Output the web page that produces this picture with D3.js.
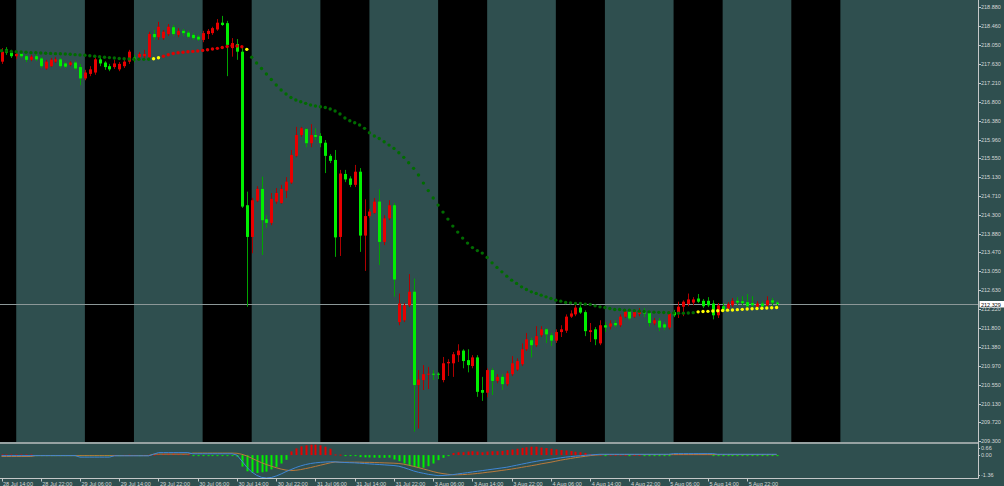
<!DOCTYPE html>
<html><head><meta charset="utf-8">
<script src="https://cdn.jsdelivr.net/npm/d3@7"></script>
<style>html,body{margin:0;padding:0;background:#2f4f4f;overflow:hidden}svg{display:block}</style>
</head><body><svg id="c" width="1004" height="486"></svg>
<script>
// ---------------- DATA ----------------
const firstBarTime = Date.UTC(2015, 6, 28, 14); // 28 Jul 14:00, hourly bars
const opens = [217.68,217.95,217.88,217.80,217.85,217.80,217.72,217.80,217.75,217.53,
 217.58,217.68,217.73,217.64,217.61,217.66,217.56,217.31,217.41,217.44,
 217.73,217.66,217.58,217.56,217.51,217.58,217.68,217.77,217.78,217.80,
 217.78,218.29,218.22,218.20,218.29,218.44,218.27,218.36,218.32,218.27,
 218.23,218.16,218.29,218.31,218.39,218.54,218.53,217.98,218.07,217.90,
 214.51,213.81,214.61,214.87,214.20,214.12,214.59,214.56,214.83,215.01,
 215.60,216.06,216.19,215.88,216.06,216.04,215.89,215.60,215.51,213.81,
 215.20,215.10,214.96,215.25,213.84,214.27,214.34,214.59,213.70,214.22,
 214.51,211.93,211.97,212.30,212.60,210.54,210.65,210.78,210.79,210.79,
 210.65,211.02,211.02,211.20,211.30,211.09,210.96,211.15,210.43,210.37,
 210.87,210.63,210.72,210.56,210.78,210.88,211.00,211.33,211.53,211.42,
 211.64,211.77,211.64,211.52,211.71,211.74,212.05,212.10,212.25,212.15,
 211.71,211.77,211.46,211.86,211.83,211.91,211.86,212.05,212.16,212.05,
 212.11,212.18,212.13,211.90,211.96,211.88,211.81,212.15,212.13,212.27,
 212.33,212.36,212.45,212.40,212.40,212.34,212.08,212.28,212.23,212.30,
 212.40,212.39,212.37,212.35,212.27,212.34,212.30,212.41,212.36];
const highs = [217.98,218.00,217.94,217.92,217.92,217.83,217.83,217.85,217.78,217.72,
 217.76,217.78,217.76,217.67,217.69,217.69,217.63,217.50,217.58,217.78,
 217.78,217.69,217.63,217.72,217.67,217.72,217.94,217.83,217.89,217.94,
 218.34,218.38,218.56,218.38,218.51,218.49,218.42,218.40,218.36,218.31,
 218.27,218.36,218.40,218.45,218.62,218.69,218.58,218.20,218.18,217.98,
 214.81,214.67,214.93,215.14,214.29,214.78,214.89,214.96,215.13,215.73,
 216.24,216.24,216.21,216.30,216.21,216.10,215.95,215.64,215.73,215.29,
 215.29,215.15,215.40,215.33,214.64,214.43,214.67,214.86,214.29,214.62,
 214.56,212.56,212.35,212.99,212.89,210.87,210.98,210.94,210.87,210.82,
 211.16,211.11,211.27,211.44,211.33,211.33,211.20,211.20,210.72,210.91,
 210.91,210.78,210.78,210.85,211.18,211.13,211.46,211.69,211.58,211.84,
 211.84,211.79,211.69,211.77,211.86,212.10,212.19,212.35,212.30,212.19,
 211.91,211.82,211.97,211.93,211.97,211.97,212.10,212.22,212.22,212.22,
 212.24,212.24,212.19,212.02,212.02,211.93,212.17,212.20,212.38,212.41,
 212.56,212.48,212.55,212.44,212.48,212.41,212.35,212.35,212.37,212.46,
 212.48,212.50,212.55,212.50,212.39,212.39,212.50,212.46,212.39];
const lows = [217.63,217.83,217.76,217.74,217.76,217.67,217.69,217.69,217.54,217.50,
 217.56,217.65,217.54,217.54,217.58,217.50,217.16,217.27,217.36,217.39,
 217.58,217.50,217.47,217.52,217.47,217.54,217.63,217.67,217.74,217.74,
 217.74,218.16,218.16,218.16,218.25,218.25,218.22,218.25,218.20,218.16,
 218.14,218.11,218.18,218.27,218.36,218.47,217.36,217.79,217.72,214.45,
 212.27,213.45,214.58,213.41,214.01,214.07,214.54,214.54,214.67,214.98,
 215.57,216.02,215.79,215.79,215.95,215.79,215.22,215.44,213.37,213.39,
 215.02,214.91,214.91,213.48,213.06,214.23,214.32,213.19,213.63,214.18,
 212.49,211.86,211.93,212.26,209.51,209.58,210.43,210.45,210.65,210.67,
 210.60,210.74,210.72,211.05,210.91,210.82,210.91,210.28,210.19,210.27,
 210.32,210.58,210.43,210.52,210.74,210.85,210.96,211.29,211.15,211.38,
 211.60,211.47,211.40,211.47,211.60,211.69,212.02,212.06,212.11,211.62,
 211.49,211.42,211.42,211.71,211.77,211.82,211.82,212.02,211.97,212.02,
 212.06,212.04,211.83,211.86,211.73,211.75,211.77,212.04,212.02,212.06,
 212.28,212.30,212.35,212.24,212.26,211.99,212.02,212.15,212.19,212.26,
 212.30,212.30,212.24,212.24,212.24,212.24,212.26,212.30,212.28];
const closes = [217.90,217.88,217.80,217.85,217.80,217.72,217.79,217.73,217.58,217.68,
 217.72,217.73,217.58,217.57,217.66,217.53,217.31,217.44,217.51,217.73,
 217.64,217.56,217.51,217.64,217.63,217.68,217.90,217.72,217.85,217.85,
 218.29,218.22,218.45,218.34,218.45,218.29,218.36,218.31,218.23,218.20,
 218.17,218.31,218.36,218.42,218.54,218.49,218.05,218.09,217.90,214.48,
 213.81,214.62,214.87,214.18,214.12,214.65,214.78,214.87,215.03,215.62,
 216.06,216.21,215.88,216.06,216.02,215.88,215.60,215.49,213.80,215.21,
 215.08,214.96,215.25,213.84,214.27,214.37,214.59,213.70,214.22,214.51,
 212.87,212.34,212.30,212.60,210.54,210.66,210.78,210.79,210.78,210.77,
 211.02,211.05,211.22,211.30,211.07,210.98,211.15,210.39,210.37,210.87,
 210.63,210.72,210.56,210.80,211.02,211.07,211.33,211.55,211.42,211.62,
 211.77,211.66,211.52,211.71,211.77,212.05,212.12,212.25,212.14,211.73,
 211.75,211.55,211.86,211.81,211.90,211.86,212.05,212.16,212.01,212.16,
 212.19,212.12,211.91,211.97,211.81,211.81,212.12,212.08,212.27,212.38,
 212.43,212.43,212.38,212.28,212.30,212.08,212.30,212.19,212.33,212.40,
 212.36,212.35,212.28,212.30,212.34,212.28,212.41,212.36,212.329];
const maValues = [217.921,217.915,217.904,217.897,217.893,217.886,217.879,217.875,217.871,217.866,
 217.862,217.857,217.853,217.849,217.842,217.835,217.826,217.820,217.811,217.800,
 217.787,217.778,217.769,217.760,217.751,217.745,217.738,217.734,217.731,217.731,
 217.734,217.745,217.767,217.798,217.833,217.860,217.875,217.888,217.897,217.906,
 217.915,217.928,217.943,217.959,217.974,217.992,218.014,218.030,218.025,218.010,
 217.952,217.776,217.650,217.528,217.407,217.285,217.164,217.053,216.965,216.888,
 216.832,216.795,216.759,216.722,216.700,216.684,216.667,216.634,216.589,216.523,
 216.435,216.375,216.331,216.280,216.207,216.110,216.037,215.982,215.911,215.838,
 215.765,215.668,215.567,215.447,215.324,215.176,214.999,214.833,214.668,214.513,
 214.358,214.204,214.049,213.917,213.784,213.674,213.574,213.508,213.453,213.358,
 213.238,213.137,213.039,212.944,212.856,212.784,212.708,212.651,212.598,212.563,
 212.525,212.487,212.452,212.414,212.392,212.363,212.355,212.341,212.341,212.326,
 212.319,212.288,212.266,212.253,212.231,212.209,212.209,212.193,212.193,212.182,
 212.171,212.165,212.156,212.149,212.145,212.140,212.136,212.132,212.127,212.127,
 212.132,212.138,212.156,212.163,212.167,212.174,212.180,212.187,212.193,212.198,
 212.204,212.211,212.218,212.224,212.231,212.237,212.242,212.248,212.253];
// colour state of the dotted line: [state, firstBar, lastBar]
const maStates = [["up",0,30],["flat",31,32],["down",33,49],["flat",50,50],["up",51,141],["flat",142,158]];
const histValues = [0.04,0.04,0.04,0.04,0.04,0.04,0.04,
 -0.02,-0.02,-0.02,-0.02,-0.02,-0.02,-0.02,-0.02,-0.02,
 -0.03,-0.03,-0.03,-0.03,-0.03,-0.03,-0.03,
 0.01,-0.01,0.01,0.02,0.01,-0.01,0.01,0.02,0.03,
 0.06,0.08,0.09,0.09,0.08,0.07,0.05,
 -0.04,-0.05,-0.05,-0.06,-0.06,-0.05,-0.05,-0.04,-0.06,
 -0.10,
 -0.68,-0.96,-1.04,-1.06,-1.02,-0.98,-0.85,-0.70,-0.50,-0.28,
 0.22,0.40,0.52,0.58,0.62,0.62,0.58,0.50,0.38,
 0.04,0.03,-0.03,-0.04,-0.05,
 -0.12,-0.13,-0.14,-0.15,-0.16,-0.16,-0.15,
 -0.26,-0.36,-0.50,-0.62,-0.70,-0.75,-0.75,-0.66,-0.50,-0.30,-0.16,-0.06,
 0.13,0.17,0.17,0.21,0.23,0.21,0.17,0.21,0.23,0.23,0.25,0.30,0.33,0.38,0.43,0.47,0.50,0.50,0.45,0.42,
 0.38,0.34,0.30,0.28,0.24,0.20,0.17,0.13,0.06,0.04,0.03,
 -0.02,0.03,0.02,0.03,0.02,-0.02,0.02,0.02,-0.03,-0.04,-0.04,-0.05,-0.05,-0.04,
 0.07,0.07,0.07,0.07,0.07,0.07,0.07,0.07,
 -0.05,-0.05,-0.05,-0.05,-0.05,-0.05,-0.05,-0.05,-0.05,-0.05,-0.05,-0.05,-0.05,-0.05];
const macdMain = [-0.03,-0.03,-0.03,-0.03,-0.03,-0.03,-0.03,-0.03,-0.03,-0.03,-0.03,-0.03,-0.03,-0.03,-0.03,-0.03,
 -0.12,-0.12,-0.12,-0.12,-0.12,-0.12,-0.12,
 -0.04,-0.04,-0.04,-0.04,-0.04,-0.04,-0.04,-0.04,
 0.05,
 0.15,0.15,0.15,0.15,0.15,0.15,0.15,
 0.08,0.08,0.08,0.08,0.08,0.08,0.08,0.08,0.08,
 0.00,
 -0.35,-0.72,-1.00,-1.20,-1.32,-1.36,-1.33,-1.24,-1.12,-0.98,-0.86,-0.74,-0.64,-0.56,-0.50,-0.46,-0.43,-0.41,-0.40,
 -0.40,-0.42,-0.44,-0.45,-0.46,-0.48,-0.50,-0.52,-0.54,-0.56,-0.58,-0.60,-0.62,
 -0.66,-0.74,-0.84,-0.94,-1.02,-1.08,-1.14,-1.18,-1.22,-1.21,-1.19,-1.16,-1.12,-1.08,-1.04,-1.00,-0.96,-0.92,-0.88,-0.84,
 -0.80,-0.76,-0.72,-0.66,-0.60,-0.54,-0.48,-0.42,-0.37,-0.32,-0.28,-0.24,-0.20,-0.16,-0.12,-0.09,-0.06,-0.04,-0.01,0.01,0.03,
 0.05,0.05,0.05,0.05,0.05,0.05,0.05,0.05,0.05,0.05,0.05,0.05,0.05,0.05,0.05,
 0.09,0.09,0.09,0.09,0.09,0.09,0.09,0.09,0.09,
 0.05,0.05,0.05,0.05,0.05,0.05,0.05,0.05,0.05,0.05,0.05,0.05,0.05];
const macdSignal = [-0.08,-0.08,-0.08,-0.08,-0.08,-0.08,-0.08,
 -0.03,-0.03,-0.03,-0.03,-0.03,-0.03,-0.03,-0.03,-0.03,-0.03,-0.03,-0.03,-0.03,-0.03,-0.03,-0.03,-0.03,-0.03,-0.03,-0.03,-0.03,-0.03,-0.03,-0.03,
 0.06,0.06,0.06,0.06,0.06,0.06,0.06,0.06,
 0.12,0.12,0.12,0.12,0.12,0.12,0.12,0.12,0.12,
 0.11,
 0.05,-0.05,-0.18,-0.32,-0.45,-0.56,-0.66,-0.75,-0.83,-0.89,
 -0.92,-0.90,-0.86,-0.80,-0.74,-0.67,-0.60,-0.53,-0.46,-0.41,-0.425,
 -0.42,-0.42,-0.42,-0.42,-0.43,-0.43,-0.44,-0.45,-0.46,-0.47,-0.48,
 -0.50,-0.54,-0.60,-0.67,-0.74,-0.82,-0.90,-0.98,-1.05,-1.10,-1.14,
 -1.17,-1.17,-1.16,-1.14,-1.12,-1.09,-1.06,-1.02,-0.99,-0.95,-0.91,-0.87,-0.83,-0.78,-0.73,-0.68,-0.63,-0.58,-0.52,-0.47,
 -0.42,-0.36,-0.30,-0.25,-0.20,-0.15,-0.11,-0.07,-0.03,0.00,0.02,
 0.03,0.03,0.03,0.03,0.03,0.03,0.03,0.03,0.03,0.03,0.03,0.03,0.03,0.03,0.03,0.03,0.03,0.03,
 0.03,0.03,0.03,0.03,0.03,0.03,0.03,0.03,0.03,0.03,0.03,0.03,0.03,0.03,0.03,0.03,0.03,0.03];
const priceTicks = [218.880,218.460,218.050,217.630,217.210,216.800,216.380,215.960,215.550,215.130,
 214.710,214.300,213.880,213.470,213.050,212.630,212.220,211.800,211.380,210.970,210.550,210.130,209.720,209.300];
const macdTicks = [0.66, 0.00, -1.36];
const timeLabels = ["28 Jul 14:00","28 Jul 22:00","29 Jul 06:00","29 Jul 14:00","29 Jul 22:00","30 Jul 06:00",
 "30 Jul 14:00","30 Jul 22:00","31 Jul 06:00","31 Jul 14:00","31 Jul 22:00","3 Aug 06:00","3 Aug 14:00",
 "3 Aug 22:00","4 Aug 06:00","4 Aug 14:00","4 Aug 22:00","5 Aug 06:00","5 Aug 14:00","5 Aug 22:00"];
const labelEveryBars = 8;
const sessionDays = [[2015,6,28],[2015,6,29],[2015,6,30],[2015,6,31],[2015,7,3],[2015,7,4],[2015,7,5],[2015,7,6]];
const sessionHours = [7, 17];
const currentPrice = 212.329;

// ---------------- HELPERS ----------------
function barIndexOf(t) { // trading-hour bars between first bar and t (weekends skipped)
  const HR = 3600000; let n = 0, cur = firstBarTime; const step = t >= cur ? 1 : -1;
  while (cur !== t) { cur += step * HR; const wd = new Date(cur).getUTCDay(); if (wd !== 0 && wd !== 6) n += step; }
  return n;
}
const N = closes.length;
const W = 1004, H = 486, axisX = 978, mainBottom = 442, subTop = 444, subBottom = 478;

const x = d3.scaleLinear().domain([0, 158]).range([1.5, 776.6]);
const y = d3.scaleLinear().domain([209.300, 218.880]).range([441.2, 7.3]);
const ym = d3.scaleLinear().domain([-1.36, 0.66]).range([subBottom, subTop]);

const svg = d3.select("#c");
svg.append("rect").attr("width", W).attr("height", H).attr("fill", "#2f4f4f");
const defs = svg.append("defs");
defs.append("clipPath").attr("id", "mainClip").append("rect").attr("x", 0).attr("y", 0).attr("width", axisX).attr("height", mainBottom);
defs.append("clipPath").attr("id", "subClip").append("rect").attr("x", 0).attr("y", subTop).attr("width", axisX).attr("height", subBottom - subTop);

const main = svg.append("g").attr("clip-path", "url(#mainClip)");
// session stripes
const sessions = sessionDays.map(d => ({
  i0: barIndexOf(Date.UTC(d[0], d[1], d[2], sessionHours[0])),
  i1: barIndexOf(Date.UTC(d[0], d[1], d[2], sessionHours[1]))
}));
main.selectAll("rect.sess").data(sessions).join("rect").attr("class", "sess")
  .attr("x", d => x(d.i0)).attr("width", d => x(d.i1) - x(d.i0))
  .attr("y", 0).attr("height", mainBottom).attr("fill", "#000");

// current price line
const yc = Math.round(y(currentPrice)) + 0.5;
main.append("line").attr("x1", 0).attr("x2", axisX).attr("y1", yc).attr("y2", yc)
  .attr("stroke", "#8c9898").attr("stroke-width", 1);

// candles
const idx = d3.range(N);
const up = i => closes[i] > opens[i];
main.selectAll("line.wick").data(idx).join("line").attr("class", "wick")
  .attr("x1", i => Math.round(x(i)) + 0.5).attr("x2", i => Math.round(x(i)) + 0.5)
  .attr("y1", i => y(highs[i])).attr("y2", i => y(lows[i]))
  .attr("stroke", i => up(i) ? "#b00000" : "#00a400").attr("stroke-width", 1);
main.selectAll("rect.body").data(idx).join("rect").attr("class", "body")
  .attr("x", i => Math.round(x(i)) - 1).attr("width", 3)
  .attr("y", i => y(Math.max(opens[i], closes[i])))
  .attr("height", i => Math.max(1, Math.abs(y(opens[i]) - y(closes[i]))))
  .attr("fill", i => up(i) ? "#e80000" : "#00f000");

// dotted line
const stateColor = { up: "#006c00", down: "#e00000", flat: "#ffff00" };
const maCol = new Array(N);
maStates.forEach(([s, a, b]) => { for (let i = a; i <= b; i++) maCol[i] = stateColor[s]; });
main.selectAll("circle.ma").data(idx).join("circle").attr("class", "ma")
  .attr("cx", i => x(i)).attr("cy", i => y(maValues[i])).attr("r", 1.7)
  .attr("fill", i => maCol[i]);

// separator
svg.append("rect").attr("x", 0).attr("y", mainBottom).attr("width", axisX).attr("height", 2).attr("fill", "#97a2a2");

// indicator window
const sub = svg.append("g").attr("clip-path", "url(#subClip)");
sub.selectAll("rect.hist").data(idx).join("rect").attr("class", "hist")
  .attr("x", i => Math.round(x(i)) - 0.5).attr("width", 2)
  .attr("y", i => histValues[i] >= 0 ? ym(histValues[i]) : ym(0))
  .attr("height", i => Math.max(1, Math.abs(ym(histValues[i]) - ym(0))))
  .attr("fill", i => histValues[i] >= 0 ? "#e80000" : "#00f000");
const lineGen = arr => d3.line().x((d, i) => x(i)).y(d => ym(d))(arr);
sub.append("path").attr("d", lineGen(macdSignal)).attr("fill", "none").attr("stroke", "#b97a3c").attr("stroke-width", 1);
sub.append("path").attr("d", lineGen(macdMain)).attr("fill", "none").attr("stroke", "#3f86d6").attr("stroke-width", 1);

// frame lines
svg.append("line").attr("x1", 0).attr("x2", axisX + 0.5).attr("y1", subBottom + 0.5).attr("y2", subBottom + 0.5).attr("stroke", "#c4c8c8");
svg.append("line").attr("x1", axisX + 0.5).attr("x2", axisX + 0.5).attr("y1", 0).attr("y2", subBottom + 0.5).attr("stroke", "#c4c8c8");

const font = "'Liberation Sans', Arial, sans-serif";
const txtCol = "#d4d8d8";
// price axis
const pax = svg.append("g");
pax.selectAll("line").data(priceTicks).join("line")
  .attr("x1", axisX).attr("x2", axisX + 3).attr("y1", d => Math.round(y(d)) + 0.5).attr("y2", d => Math.round(y(d)) + 0.5)
  .attr("stroke", "#c4c8c8");
pax.selectAll("text").data(priceTicks).join("text")
  .attr("x", axisX + 3).attr("y", d => Math.min(y(d), mainBottom - 1) + 2)
  .attr("font-family", font).attr("font-size", 5.5).attr("fill", txtCol)
  .text(d => d.toFixed(3));
// current price label
const cpG = svg.append("g");
cpG.append("rect").attr("x", axisX + 1.5).attr("y", yc - 3.5).attr("width", 25).attr("height", 6.5).attr("fill", "#ffffff");
cpG.append("text").attr("x", axisX + 3).attr("y", yc + 2).attr("font-family", font).attr("font-size", 5.5)
  .attr("fill", "#000").text(currentPrice.toFixed(3));

// indicator axis
const mOffsets = v => v === macdTicks[0] ? 5.5 : (v === macdTicks[2] ? -1 : 2);
svg.append("g").selectAll("text").data(macdTicks).join("text")
  .attr("x", axisX + 3).attr("y", d => ym(d) + mOffsets(d))
  .attr("font-family", font).attr("font-size", 5.5).attr("fill", txtCol)
  .text(d => d.toFixed(2));
svg.append("g").selectAll("line").data(macdTicks).join("line")
  .attr("x1", axisX).attr("x2", axisX + 2).attr("y1", d => Math.round(ym(d) + mOffsets(d) - 2) + 0.5).attr("y2", d => Math.round(ym(d) + mOffsets(d) - 2) + 0.5)
  .attr("stroke", "#c4c8c8");

// time axis
const tg = svg.append("g");
tg.selectAll("line").data(timeLabels).join("line")
  .attr("x1", (d, k) => Math.round(x(k * labelEveryBars)) + 0.5).attr("x2", (d, k) => Math.round(x(k * labelEveryBars)) + 0.5)
  .attr("y1", subBottom).attr("y2", subBottom + 3.5).attr("stroke", "#c4c8c8");
tg.selectAll("text").data(timeLabels).join("text")
  .attr("x", (d, k) => x(k * labelEveryBars) + 1.5).attr("y", 485.5)
  .attr("font-family", font).attr("font-size", 5.5).attr("fill", txtCol)
  .text(d => d);
</script></body></html>
